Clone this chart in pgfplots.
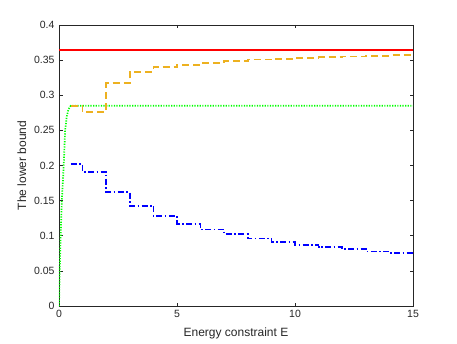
\documentclass[border=0pt]{standalone}
\usepackage{pgfplots}
\pgfplotsset{compat=1.18}
\usepackage{fontspec}
\setmainfont{Liberation Sans}
\definecolor{mgray}{rgb}{0.15,0.15,0.15}
\definecolor{morange}{rgb}{0.929,0.694,0.125}
\begin{document}
\begin{tikzpicture}[x=1pt,y=1pt]
\useasboundingbox (0,0) rectangle (457,343);
\begin{axis}[
  at={(59pt,37pt)}, anchor=south west,
  scale only axis, width=354pt, height=281pt,
  xmin=0, xmax=15, ymin=0, ymax=0.4,
  xtick={0,5,10,15},
  ytick={0,0.05,0.1,0.15,0.2,0.25,0.3,0.35,0.4},
  yticklabels={0,0.05,0.1,0.15,0.2,0.25,0.3,0.35,0.4},
  /pgf/number format/assume math mode=true,
  tick align=inside, tick pos=both,
  major tick length=3.5pt,
  axis line style={mgray, line width=0.6pt},
  every tick/.style={mgray, line width=0.6pt},
  tick label style={font=\fontsize{10.5}{12}\selectfont, text=black!85},
  xticklabel style={yshift=-1pt},
  yticklabel style={xshift=-1pt},
  label style={font=\fontsize{12}{14}\selectfont, text=black!85},
  xlabel={Energy constraint E},
  ylabel={The lower bound},
  xlabel style={yshift=-3pt},
  ylabel style={yshift=1pt},
  clip=true,
]
\addplot[red, line width=1.7pt] coordinates {(0,0.364) (15,0.364)};
\addplot[green, line width=1.7pt, dash pattern=on 1.2pt off 1.4pt] coordinates {
(0,0) (0.03,0.05) (0.07,0.1) (0.12,0.15) (0.2,0.2) (0.26,0.25) (0.33,0.27) (0.4,0.28) (0.5,0.285) (15,0.285)};
\addplot[morange, line width=1.7pt, const plot, dash pattern=on 7pt off 4pt] coordinates {
(0.5,0.285) (1,0.276) (2,0.317) (3,0.333) (4,0.340) (5,0.343) (6,0.346) (7,0.349) (8,0.351) (9,0.352) (10,0.353) (11,0.354) (12,0.355) (13,0.356) (14,0.357) (15,0.357)};
\addplot[blue, line width=1.7pt, const plot, dash pattern=on 6pt off 2.5pt on 1.5pt off 2.5pt] coordinates {
(0.5,0.202) (1,0.191) (2,0.162) (3,0.1425) (4,0.128) (5,0.117) (6,0.1087) (7,0.102) (8,0.0959) (9,0.0907) (10,0.0873) (11,0.0836) (12,0.0807) (13,0.0774) (14,0.0750) (15,0.0750)};
\end{axis}
\end{tikzpicture}
\end{document}
